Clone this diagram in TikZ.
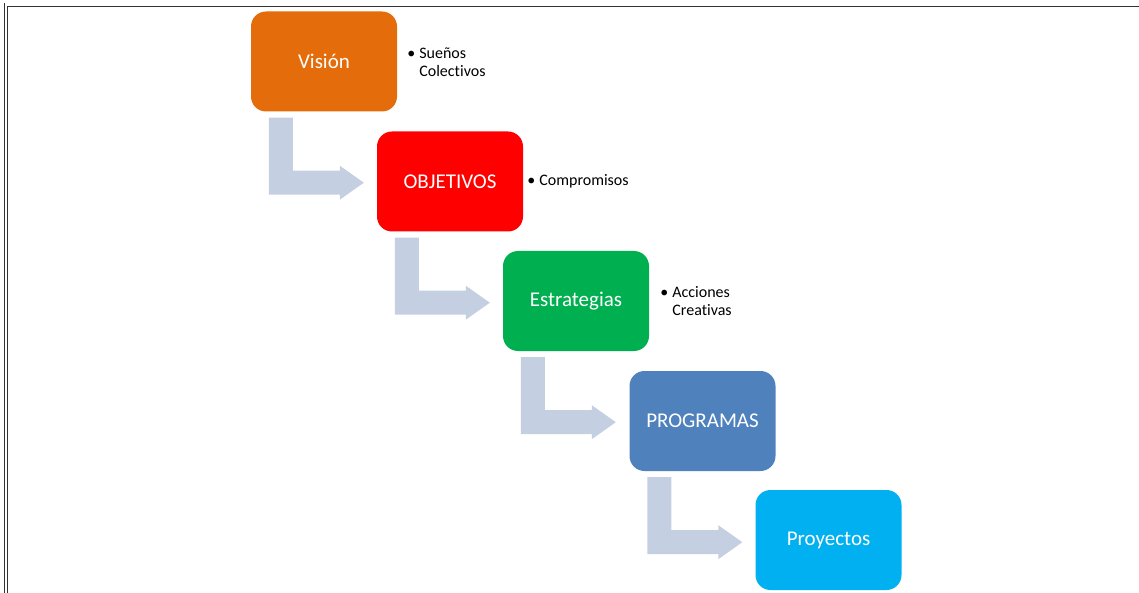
\documentclass[tikz,border=0pt]{standalone}
\usepackage{fontspec}
\setmainfont[Ligatures=NoCommon]{Carlito}
\usetikzlibrary{calc}
\definecolor{cvis}{HTML}{E46C0A}
\definecolor{cobj}{HTML}{FF0000}
\definecolor{cest}{HTML}{00B050}
\definecolor{cpro}{HTML}{4F81BD}
\definecolor{cpry}{HTML}{00B0F0}
\definecolor{carr}{HTML}{C4CFE2}
\definecolor{cframe}{HTML}{333333}
\begin{document}
\begin{tikzpicture}[x=1pt,y=-1pt,
  box/.style={rounded corners=15pt, minimum width=146pt, minimum height=100pt, inner sep=0pt, text=white, font=\fontsize{21}{25}\selectfont},
  side/.style={anchor=west, font=\fontsize{16}{18}\selectfont, inner sep=0pt, align=left},
  bent/.style={fill=carr},
  frame/.style={draw=cframe, line width=1.3pt}]
\useasboundingbox (0,0) rectangle (1139,593);
% frame
\coordinate (f1) at (4.5,3);
\coordinate (f1b) at (4.5,593);
\coordinate (f2) at (7.5,6.5);
\coordinate (f2b) at (7.5,593);
\coordinate (f3) at (1139,6.5);
\draw[frame] (f1) -- (f1b);
\draw[frame] (f2b) -- (f2) -- (f3);
% boxes
\node[box, fill=cvis] (v) at (324,61.5) {Visión};
\node[box, fill=cobj] (o) at (450,181.5) {OBJETIVOS};
\node[box, fill=cest] (e) at (576,301) {Estrategias};
\node[box, fill=cpro] (p) at (702.5,421) {PROGRAMAS};
\node[box, fill=cpry] (y) at (828.5,540) {Proyectos};
% side texts
\node[side] (sv) at ($(v.east)+(10,2)$) {\begin{tabular}{@{}l@{\hspace{4pt}}l@{}}\textbullet & Sueños\\ & Colectivos\end{tabular}};
\node[side] (so) at ($(o.east)+(4,0)$) {\begin{tabular}{@{}l@{\hspace{4pt}}l@{}}\textbullet & Compromisos\end{tabular}};
\node[side] (se) at ($(e.east)+(11,2)$) {\begin{tabular}{@{}l@{\hspace{4pt}}l@{}}\textbullet & Acciones\\ & Creativas\end{tabular}};
% bent arrows
\foreach \s in {v,o,e,p}{
  \fill[bent] ($(\s.south west)+(18,6)$) -- ($(\s.south west)+(42,6)$) -- ($(\s.south west)+(42,59)$)
    -- ($(\s.south west)+(89,59)$) -- ($(\s.south west)+(89,54)$) -- ($(\s.south west)+(113,71)$)
    -- ($(\s.south west)+(89,88)$) -- ($(\s.south west)+(89,83)$) -- ($(\s.south west)+(18,83)$) -- cycle;
}
\end{tikzpicture}
\end{document}
